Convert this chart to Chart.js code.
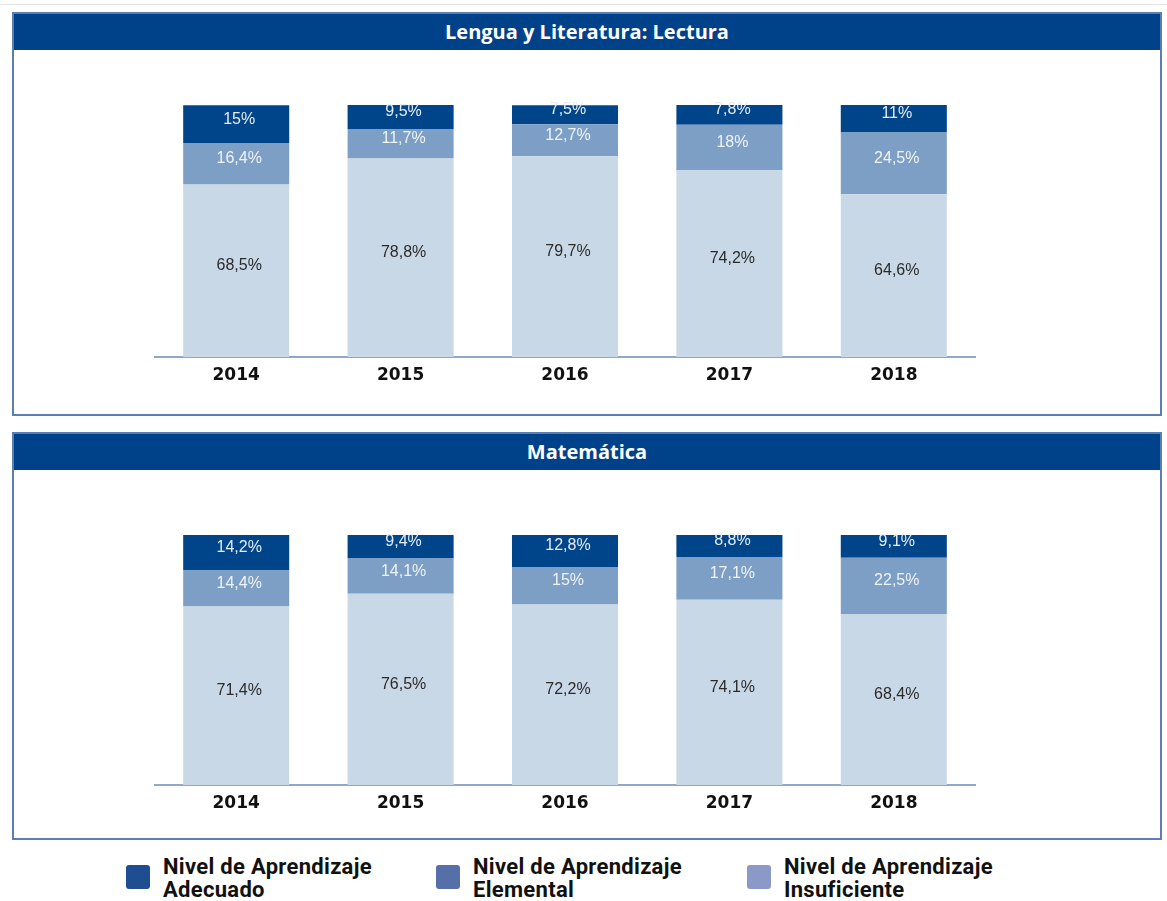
<!DOCTYPE html>
<html>
<head>
<meta charset="utf-8">
<script src="https://cdn.jsdelivr.net/npm/chart.js@4/dist/chart.umd.min.js"></script>
<style>
  body { margin: 0; background: #fff; width: 1167px; height: 901px; position: relative; overflow: hidden; }
  .topline { position: absolute; left: 0; top: 4px; width: 1167px; height: 1px; background: #e4e4e4; }
  .panel { position: absolute; left: 12px; width: 1146px; border: 2px solid #5c7fb2; box-sizing: content-box; }
  .head { height: 36px; background: #00428a; color: #fff; font: bold 20px "Open Sans", sans-serif;
          text-align: center; line-height: 36px; }
  canvas { position: absolute; }
  .legend { position: absolute; top: 855px; font: bold 22px "Roboto", sans-serif; letter-spacing: 0.3px;
            line-height: 23px; color: #111; }
  .legend span.box { position: absolute; left: -37px; top: 10px; width: 24px; height: 24px; border-radius: 3px; }
</style>
</head>
<body>
<div class="topline"></div>
<div class="panel" style="top:12px;height:400px"><div class="head">Lengua y Literatura: Lectura</div></div>
<div class="panel" style="top:432px;height:404px"><div class="head">Matemática</div></div>
<canvas id="c1" width="822" height="302" style="left:154px;top:95px"></canvas>
<canvas id="c2" width="822" height="300" style="left:154px;top:525px"></canvas>

<div class="legend" style="left:163px"><span class="box" style="background:#1f4d91"></span>Nivel de Aprendizaje<br>Adecuado</div>
<div class="legend" style="left:473px"><span class="box" style="background:#566fa9"></span>Nivel de Aprendizaje<br>Elemental</div>
<div class="legend" style="left:784px"><span class="box" style="background:#8b99c7"></span>Nivel de Aprendizaje<br>Insuficiente</div>

<script>
var years = ['2014', '2015', '2016', '2017', '2018'];

var lecturaAdecuado = [15, 9.5, 7.5, 7.8, 11];
var lecturaElemental = [16.4, 11.7, 12.7, 18, 24.5];
var lecturaInsuficiente = [68.5, 78.8, 79.7, 74.2, 64.6];

var mateAdecuado = [14.2, 9.4, 12.8, 8.8, 9.1];
var mateElemental = [14.4, 14.1, 15, 17.1, 22.5];
var mateInsuficiente = [71.4, 76.5, 72.2, 74.1, 68.4];

var colorDark = '#00448a';
var colorMid = '#7d9fc6';
var colorLight = '#c9d8e6';

// draws the percent text in each segment, a bit above the middle
var segmentLabels = {
    id: 'segmentLabels',
    afterDatasetsDraw: function (chart) {
        var ctx = chart.ctx;
        ctx.save();
        ctx.font = '16px "Liberation Sans", Arial, sans-serif';
        ctx.textAlign = 'center';
        ctx.textBaseline = 'middle';
        chart.data.datasets.forEach(function (ds, i) {
            var meta = chart.getDatasetMeta(i);
            meta.data.forEach(function (bar, j) {
                var y = (bar.y + bar.base) / 2 - 5;
                ctx.fillStyle = ds.labelColor;
                ctx.fillText(String(ds.data[j]).replace('.', ',') + '%', bar.x + 3, y);
            });
        });
        ctx.restore();
    }
};

function draw(canvasId, insuficiente, elemental, adecuado) {
    new Chart(document.getElementById(canvasId), {
        type: 'bar',
        data: {
            labels: years,
            datasets: [
                { data: insuficiente, backgroundColor: colorLight, labelColor: '#2b2b2b' },
                { data: elemental, backgroundColor: colorMid, labelColor: '#eef3f8' },
                { data: adecuado, backgroundColor: colorDark, labelColor: '#e6edf5' }
            ]
        },
        options: {
            responsive: false,
            animation: false,
            categoryPercentage: 1,
            barPercentage: 0.645,
            layout: { padding: { top: 10, left: 0, right: 0, bottom: 0 } },
            scales: {
                x: {
                    stacked: true,
                    grid: { display: false },
                    border: { display: true, color: '#8ea7cb', width: 2 },
                    ticks: {
                        padding: 0,
                        color: '#111',
                        font: { family: '"DejaVu Sans"', weight: 'bold', size: 17 }
                    },
                    afterFit: function (scale) { scale.height = 40; }
                },
                y: {
                    stacked: true,
                    display: false,
                    min: 0,
                    max: 100
                }
            },
            plugins: {
                legend: { display: false },
                tooltip: { enabled: false }
            }
        },
        plugins: [segmentLabels]
    });
}

draw('c1', lecturaInsuficiente, lecturaElemental, lecturaAdecuado);
draw('c2', mateInsuficiente, mateElemental, mateAdecuado);
</script>
</body>
</html>
